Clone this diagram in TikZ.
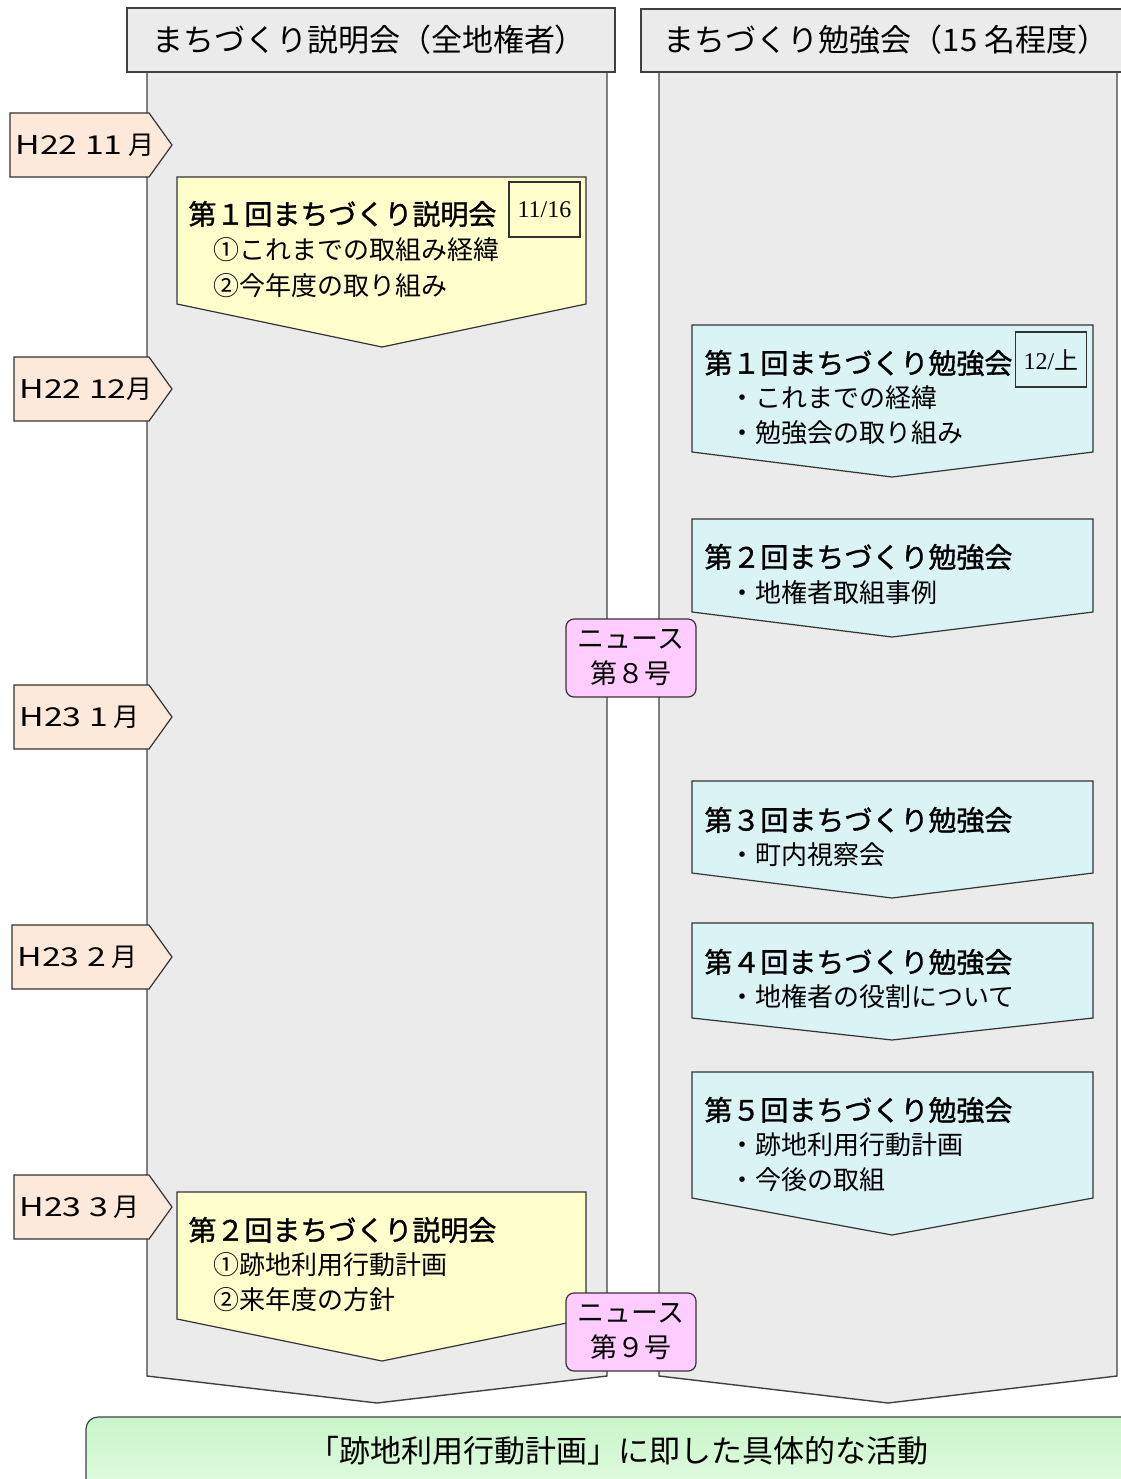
\documentclass[tikz,border=0pt]{standalone}
\usepackage{fontspec}
\setmainfont{Noto Sans CJK JP}
\newfontfamily\datefont{Liberation Serif}
\newfontfamily\widefont[FakeStretch=1.3]{Noto Sans CJK JP}
\newfontfamily\ttlfont[FakeBold=1.2]{Noto Sans CJK JP}
\usetikzlibrary{positioning,shapes,backgrounds}
\definecolor{colgray}{RGB}{235,235,235}
\definecolor{evtyellow}{RGB}{255,255,204}
\definecolor{evtcyan}{RGB}{218,243,245}
\definecolor{monthpeach}{RGB}{253,233,217}
\definecolor{newspink}{RGB}{255,204,255}
\definecolor{goaltop}{RGB}{200,245,200}
\definecolor{goalbot}{RGB}{236,255,236}

\begin{document}
\begin{tikzpicture}[x=0.5pt, y=-0.5pt]
\tikzstyle{colbody}=[draw=black!75, fill=colgray, line width=0.7pt]
\tikzstyle{evtY}=[draw=black!80, fill=evtyellow, line width=0.6pt]
\tikzstyle{evtC}=[draw=black!80, fill=evtcyan, line width=0.6pt]
\tikzstyle{month}=[draw=black!80, fill=monthpeach, line width=0.6pt]
\tikzstyle{hdr}=[inner sep=0pt, font=\fontsize{15.5}{18}\selectfont]
\tikzstyle{ttl}=[anchor=west, inner sep=0pt, font=\ttlfont\fontsize{14}{16}\selectfont]
\tikzstyle{itm}=[anchor=west, inner sep=0pt, font=\fontsize{13}{15}\selectfont]
\tikzstyle{news}=[draw=black!80, fill=newspink, rounded corners=4pt, line width=0.6pt,
                  minimum width=65pt, minimum height=39pt, inner sep=0pt,
                  align=center, font=\fontsize{13.5}{17.5}\selectfont]
\tikzstyle{datebx}=[draw=black!80, line width=0.6pt, minimum width=35.5pt,
                    minimum height=27.5pt, inner sep=0pt, font=\datefont\fontsize{12}{14}\selectfont]
\useasboundingbox (0,0) rectangle (1120,1479);
% columns and headers
\draw[colbody] (147,72) -- (607,72) -- (607,1376) -- (377,1403) -- (147,1376) -- cycle;
\draw[colbody] (659,72) -- (1117,72) -- (1117,1376) -- (888,1403) -- (659,1376) -- cycle;
\draw[colbody] (127,8) rectangle (615,72);
\draw[colbody] (641,9) rectangle (1140,72);
\node[hdr] (hL) at (369,40) {まちづくり説明会（全地権者）};
\node[hdr] (hR) at (886,40) {まちづくり勉強会（15 名程度）};
% months
\foreach \i/\x/\t/\yr/\mo in {1/10/113/H22 11/\ 月, 2/14/357/H22 12/月, 3/14/685/H23 1/\ 月,
                             4/12/925/H23 2/\ 月, 5/14/1175/H23 3/\ 月}{
  \draw[month] (\x,\t) -- (149,\t) -- (172,\t+32) -- (149,\t+64) -- (\x,\t+64) -- cycle;
  \node[itm] (m\i) at (\x+5,\t+32) {{\widefont\yr}\mo};
}
% setsumeikai
\foreach \nm/\t/\c/\p in {Y1/177/304/347, Y2/1192/1319/1361}{
  \draw[evtY] (177,\t) -- (586,\t) -- (586,\c) -- (382,\p) -- (177,\c) -- cycle;
}
\node[ttl] (y1) at (188,214) {第１回まちづくり説明会};
\node[itm] (y1a) at (213,250) {①これまでの取組み経緯};
\node[itm] (y1b) at (213,286) {②今年度の取り組み};
\node[datebx] (d1) at (544.5,209.5) {11/16};
\node[ttl] (y2) at (188,1230) {第２回まちづくり説明会};
\node[itm] (y2a) at (213,1265) {①跡地利用行動計画};
\node[itm] (y2b) at (213,1300) {②来年度の方針};
% benkyoukai
\foreach \nm/\t/\c/\p in {R1/325/452/477, R2/519/612/637, R3/781/873/898,
                          R4/923/1018/1040, R5/1072/1198/1235}{
  \draw[evtC] (692,\t) -- (1093,\t) -- (1093,\c) -- (892,\p) -- (692,\c) -- cycle;
}
\node[ttl] (r1) at (704,363) {第１回まちづくり勉強会};
\node[itm] (r1a) at (729,398) {・これまでの経緯};
\node[itm] (r1b) at (729,433) {・勉強会の取り組み};
\node[datebx] (d2) at (1051,359.5) {12/{\normalfont 上}};
\node[ttl] (r2) at (704,557) {第２回まちづくり勉強会};
\node[itm] (r2a) at (729,593) {・地権者取組事例};
\node[ttl] (r3) at (704,820) {第３回まちづくり勉強会};
\node[itm] (r3a) at (729,855) {・町内視察会};
\node[ttl] (r4) at (704,962) {第４回まちづくり勉強会};
\node[itm] (r4a) at (729,997) {・地権者の役割について};
\node[ttl] (r5) at (704,1110) {第５回まちづくり勉強会};
\node[itm] (r5a) at (729,1145) {・跡地利用行動計画};
\node[itm] (r5b) at (729,1180) {・今後の取組};
% news
\node[news] (n8) at (631,658) {ニュース\\第８号};
\node[news] (n9) at (631,1332) {ニュース\\第９号};
% goal
\shade[top color=goaltop, bottom color=goalbot, draw=black!75, line width=0.6pt,
       rounded corners=6pt] (86,1417) rectangle (1150,1520);
\node[hdr] (goal) at (618,1451) {「跡地利用行動計画」に即した具体的な活動};
\end{tikzpicture}
\end{document}
